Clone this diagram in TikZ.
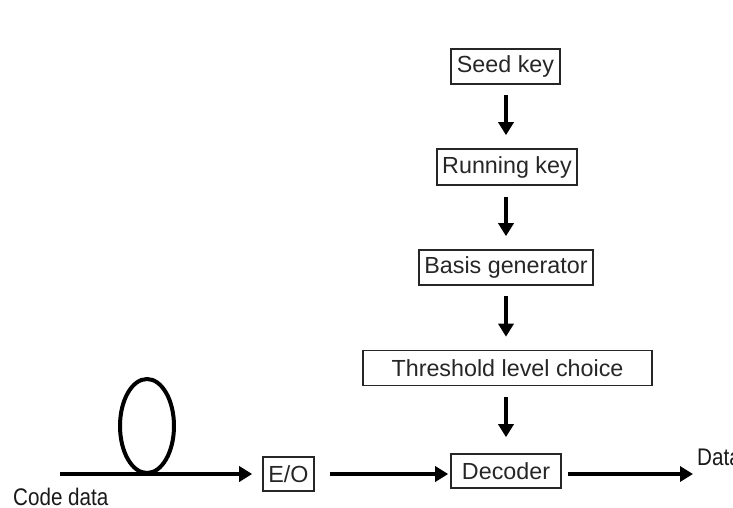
\documentclass[tikz,border=0pt]{standalone}
\usepackage{fontspec}
\setmainfont{Liberation Sans}
\newfontfamily\condfont[FakeStretch=0.86]{Liberation Sans}
\usetikzlibrary{arrows.meta,positioning,calc}

\tikzset{
  block/.style={draw=black!85, line width=1.6pt, inner xsep=2pt, inner ysep=0pt,
    font=\fontsize{23.3}{26}\selectfont, text=black!85, minimum height=35pt},
  flow/.style={line width=4pt, -{Triangle[length=13pt,width=15pt]}},
  lbl/.style={font=\condfont\fontsize{24}{26}\selectfont, text=black!90, inner sep=0pt},
}

\begin{document}
\begin{tikzpicture}[x=1pt,y=-1pt]
  \useasboundingbox (0,0) rectangle (733,507);

  % key chain
  \node[block, minimum width=109pt] (seed) at (505.5,66.5) {Seed key};
  \node[block, minimum width=140pt, minimum height=36pt] (run) at (507,167) {Running key};
  \node[block, minimum width=174pt] (basis) at (506,267.5) {Basis generator};
  \node[block, minimum width=289pt] (thr) at (507.5,368) {Threshold level choice};
  \node[block, minimum width=110pt, minimum height=34pt] (dec) at (506,471) {Decoder};
  \node[block, minimum width=51pt, minimum height=34pt] (eo) at (288.5,474) {E/O};

  \draw[flow, shorten <=10pt, shorten >=13pt] (seed.south -| 506,0) -- (run.north -| 506,0);
  \draw[flow, shorten <=11pt, shorten >=13pt] (run.south -| 506,0) -- (basis.north -| 506,0);
  \draw[flow, shorten <=10pt, shorten >=13pt] (basis.south -| 506,0) -- (thr.north -| 506,0);
  \draw[flow, shorten <=11pt, shorten >=16pt] (thr.south -| 506,0) -- (dec.north -| 506,0);

  % fibre input with loop
  \coordinate (in) at (60,474);
  \draw[line width=4pt] (147,426) ellipse [x radius=27pt, y radius=47pt];
  \draw[flow, shorten >=10pt] (in) -- (eo.west);
  \draw[flow, shorten <=15pt, shorten >=2pt] (eo.east) -- (eo.east -| dec.west);
  \coordinate (out) at (693,474);
  \draw[flow, shorten <=6pt] (dec.east |- out) -- (out);

  % labels
  \node[lbl, anchor=base west] (code) at (13,505) {Code data};
  \node[lbl, anchor=base west] (data) at (697,465) {Data};
\end{tikzpicture}
\end{document}
